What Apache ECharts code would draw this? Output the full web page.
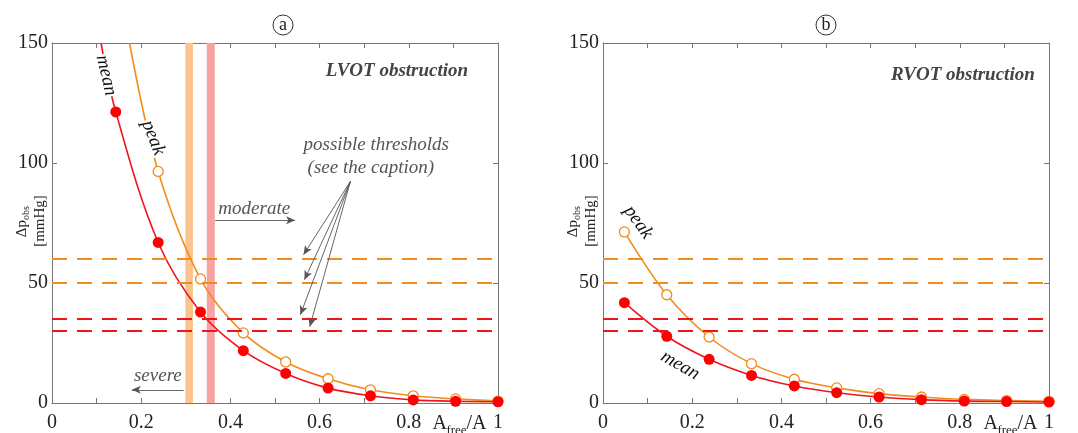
<!DOCTYPE html>
<html><head><meta charset="utf-8">
<script src="https://cdn.jsdelivr.net/npm/echarts@6/dist/echarts.min.js"></script>
<style>html,body{margin:0;padding:0;background:#fff}#c{width:1078px;height:433px}</style>
</head><body><div id="c"></div>
<script>
// ---- data ----
const xLeftMean = [0.143, 0.238, 0.333, 0.429, 0.524, 0.619, 0.714, 0.810, 0.905, 1.0];
const meanLeft  = [121.3, 66.9, 37.9, 21.8, 12.3, 6.2, 3.0, 1.3, 0.7, 0.5];
const xLeftPeak = [0.238, 0.333, 0.429, 0.524, 0.619, 0.714, 0.810, 0.905, 1.0];
const peakLeft  = [96.5, 51.7, 29.2, 17.1, 10.1, 5.5, 3.0, 1.7, 0.8];
const meanLeftEdge = [0.110, 150];   // where the mean curve leaves the plot
const peakLeftEdge = [0.174, 150];   // where the peak curve leaves the plot
const xRight    = [0.048, 0.143, 0.238, 0.333, 0.429, 0.524, 0.619, 0.714, 0.810, 0.905, 1.0];
const meanRight = [41.8, 27.8, 18.2, 11.5, 7.1, 4.3, 2.5, 1.4, 0.8, 0.6, 0.4];
const peakRight = [71.3, 45.1, 27.5, 16.4, 9.9, 6.3, 3.9, 2.5, 1.5, 1.0, 0.7];
const peakThresholds = [60, 50];
const meanThresholds = [35, 30];
const bandPeak = [0.299, 0.316];
const bandMean = [0.347, 0.365];
const xTickLabels = [0, 0.2, 0.4, 0.6, 0.8, 1];
const yTickLabels = [0, 50, 100, 150];

const RED = '#F0141E', ORANGE = '#F28C1C', GRAY = '#555';
const SERIF = '"Liberation Serif","DejaVu Serif",serif';

const pairs = (xs, ys) => xs.map((x, i) => [x, ys[i]]);

const chart = echarts.init(document.getElementById('c'), null, {renderer: 'canvas'});

function xAx(grid, bottom) {
  return {
    type: 'value', gridIndex: grid, min: 0, max: 1, interval: 0.1,
    position: bottom ? 'bottom' : 'top',
    axisLine: {show: true, onZero: false, lineStyle: {color: '#777', width: 1}},
    axisTick: {show: true, inside: true, length: 5, lineStyle: {color: '#777'}},
    splitLine: {show: false},
    axisLabel: bottom ? {
      show: true, margin: 10, color: '#222', fontFamily: SERIF, fontSize: 20,
      formatter: v => xTickLabels.some(t => Math.abs(t - v) < 1e-6) ? String(+(+v).toFixed(1)) : ''
    } : {show: false}
  };
}
function yAx(grid, left) {
  return {
    type: 'value', gridIndex: grid, min: 0, max: 150, interval: 50,
    position: left ? 'left' : 'right',
    axisLine: {show: true, onZero: false, lineStyle: {color: '#777', width: 1}},
    axisTick: {show: true, inside: true, length: 5, lineStyle: {color: '#777'}},
    splitLine: {show: false},
    axisLabel: left ? {
      show: true, margin: 4, color: '#222', fontFamily: SERIF, fontSize: 20,
      formatter: v => yTickLabels.includes(v) ? String(v) : ''
    } : {show: false}
  };
}

function bandSeries(ax) {
  return {
    type: 'line', xAxisIndex: ax, yAxisIndex: ax, data: [], z: 1, silent: true,
    markArea: {
      silent: true,
      data: [
        [{xAxis: bandPeak[0], itemStyle: {color: '#FDC38D', opacity: 1}}, {xAxis: bandPeak[1]}],
        [{xAxis: bandMean[0], itemStyle: {color: '#F9A2A2', opacity: 1}}, {xAxis: bandMean[1]}]
      ]
    }
  };
}
function thresholdSeries(ax) {
  return {
    type: 'line', xAxisIndex: ax, yAxisIndex: ax, data: [], z: 2, silent: true,
    markLine: {
      silent: true, symbol: ['none', 'none'], label: {show: false},
      data: peakThresholds.map(v => ({yAxis: v, lineStyle: {color: ORANGE, width: 2, type: [15, 10]}}))
        .concat(meanThresholds.map(v => ({yAxis: v, lineStyle: {color: RED, width: 2, type: [15, 10]}})))
    }
  };
}
function meanSeries(ax, data) {
  return {
    type: 'line', xAxisIndex: ax, yAxisIndex: ax, data, z: 4, smooth: 0.35,
    symbol: 'circle', symbolSize: 11, lineStyle: {color: RED, width: 1.6},
    itemStyle: {color: '#FF0000', borderWidth: 0}, silent: true
  };
}
function peakSeries(ax, data) {
  return {
    type: 'line', xAxisIndex: ax, yAxisIndex: ax, data, z: 3, smooth: 0.35,
    symbol: 'circle', symbolSize: 10, lineStyle: {color: ORANGE, width: 1.6},
    itemStyle: {color: '#fff', borderColor: ORANGE, borderWidth: 1.3}, silent: true
  };
}

const arrowStyle = {color: GRAY, width: 0.9, type: 'solid'};
const annotSeries = {
  type: 'line', xAxisIndex: 0, yAxisIndex: 0, data: [], z: 5, silent: true,
  markLine: {
    silent: true, symbol: ['none', 'arrow'], symbolSize: [6, 9], label: {show: false},
    lineStyle: arrowStyle,
    data: [
      [{coord: [0.669, 92.3]}, {coord: [0.564, 61.8]}],
      [{coord: [0.669, 92.3]}, {coord: [0.566, 51.4]}],
      [{coord: [0.669, 92.3]}, {coord: [0.557, 36.8]}],
      [{coord: [0.669, 92.3]}, {coord: [0.578, 31.8]}],
      [{coord: [0.366, 76.1]}, {coord: [0.545, 76.1]}],
      [{coord: [0.295, 5.5]}, {coord: [0.179, 5.5]}]
    ]
  }
};

const meanLeftData = [{value: meanLeftEdge, symbol: 'none'}].concat(pairs(xLeftMean, meanLeft));
const peakLeftData = [{value: peakLeftEdge, symbol: 'none'}].concat(pairs(xLeftPeak, peakLeft));

chart.setOption({
  animation: false,
  backgroundColor: '#fff',
  grid: [
    {left: 52, top: 43, width: 446, height: 360},
    {left: 603, top: 43, width: 446, height: 360}
  ],
  xAxis: [xAx(0, true), xAx(1, true), xAx(0, false), xAx(1, false)],
  yAxis: [yAx(0, true), yAx(1, true), yAx(0, false), yAx(1, false)],
  series: [
    bandSeries(0),
    thresholdSeries(0), thresholdSeries(1),
    peakSeries(0, peakLeftData), meanSeries(0, meanLeftData),
    peakSeries(1, pairs(xRight, peakRight)), meanSeries(1, pairs(xRight, meanRight)),
    annotSeries
  ]
});

// ---- text annotations placed in data coordinates ----
const P = (g, pt) => chart.convertToPixel({gridIndex: g}, pt);
const txt = (g, pt, text, opt) => {
  const p = P(g, pt);
  return {
    type: 'text', x: p[0], y: p[1], rotation: opt.rot || 0, z: 10,
    style: Object.assign({
      text, fill: GRAY, font: 'italic 19px ' + SERIF,
      align: 'center', verticalAlign: 'middle'
    }, opt.style || {})
  };
};

const graphics = [];
// panel letters
[[283, 'a'], [826, 'b']].forEach(([cx, l]) => {
  graphics.push({type: 'circle', shape: {cx, cy: 25, r: 10}, style: {fill: 'none', stroke: '#333', lineWidth: 1}});
  graphics.push({type: 'text', x: cx, y: 25, style: {text: l, font: '18px ' + SERIF, fill: '#222', align: 'center', verticalAlign: 'middle'}});
});
graphics.push(txt(0, [0.933, 138.2], 'LVOT obstruction', {style: {align: 'right', font: 'italic bold 19px ' + SERIF, fill: '#444'}}));
graphics.push(txt(1, [0.968, 136.5], 'RVOT obstruction', {style: {align: 'right', font: 'italic bold 19px ' + SERIF, fill: '#444'}}));
graphics.push(txt(0, [0.727, 107.3], 'possible thresholds', {}));
graphics.push(txt(0, [0.715, 97.9], '(see the caption)', {}));
graphics.push(txt(0, [0.373, 80.8], 'moderate', {style: {align: 'left'}}));
graphics.push(txt(0, [0.291, 11.1], 'severe', {style: {align: 'right'}}));
// curve labels (white background breaks the curve)
graphics.push(txt(0, [0.1215, 136.5], 'mean', {rot: -1.34, style: {fill: '#111', backgroundColor: '#fff', padding: [0, 1]}}));
graphics.push(txt(0, [0.227, 110.5], 'peak', {rot: -1.2, style: {fill: '#111', backgroundColor: '#fff', padding: [0, 1]}}));
graphics.push(txt(1, [0.079, 75.3], 'peak', {rot: -0.95, style: {fill: '#111', backgroundColor: '#fff', padding: [0, 1]}}));
graphics.push(txt(1, [0.173, 15.7], 'mean', {rot: -0.52, style: {fill: '#111'}}));

// y-axis names (rotated, with subscript)
[52, 603].forEach(ax => {
  graphics.push({
    type: 'group', x: ax - 30, y: 221, rotation: Math.PI / 2,
    children: [
      {type: 'text', x: 1, y: 0, style: {text: 'Δp', font: '15px ' + SERIF, fill: '#222', align: 'right', verticalAlign: 'middle'}},
      {type: 'text', x: 1, y: 4, style: {text: 'obs', font: '10px ' + SERIF, fill: '#222', align: 'left', verticalAlign: 'middle'}},
      {type: 'text', x: 0, y: 18, style: {text: '[mmHg]', font: '15px ' + SERIF, fill: '#222', align: 'center', verticalAlign: 'middle'}}
    ]
  });
});
// x-axis names
[0, 1].forEach(g => {
  const p = P(g, [0.909, 0]);
  graphics.push({
    type: 'group', x: p[0], y: p[1] + 21,
    children: [
      {type: 'text', x: -25, y: 0, style: {text: 'A', font: '20px ' + SERIF, fill: '#222', align: 'left', verticalAlign: 'middle'}},
      {type: 'text', x: -11, y: 7, style: {text: 'free', font: '13px ' + SERIF, fill: '#222', align: 'left', verticalAlign: 'middle'}},
      {type: 'text', x: 9, y: 0, style: {text: '/A', font: '20px ' + SERIF, fill: '#222', align: 'left', verticalAlign: 'middle'}}
    ]
  });
});
chart.setOption({graphic: graphics});
</script>
</body></html>
